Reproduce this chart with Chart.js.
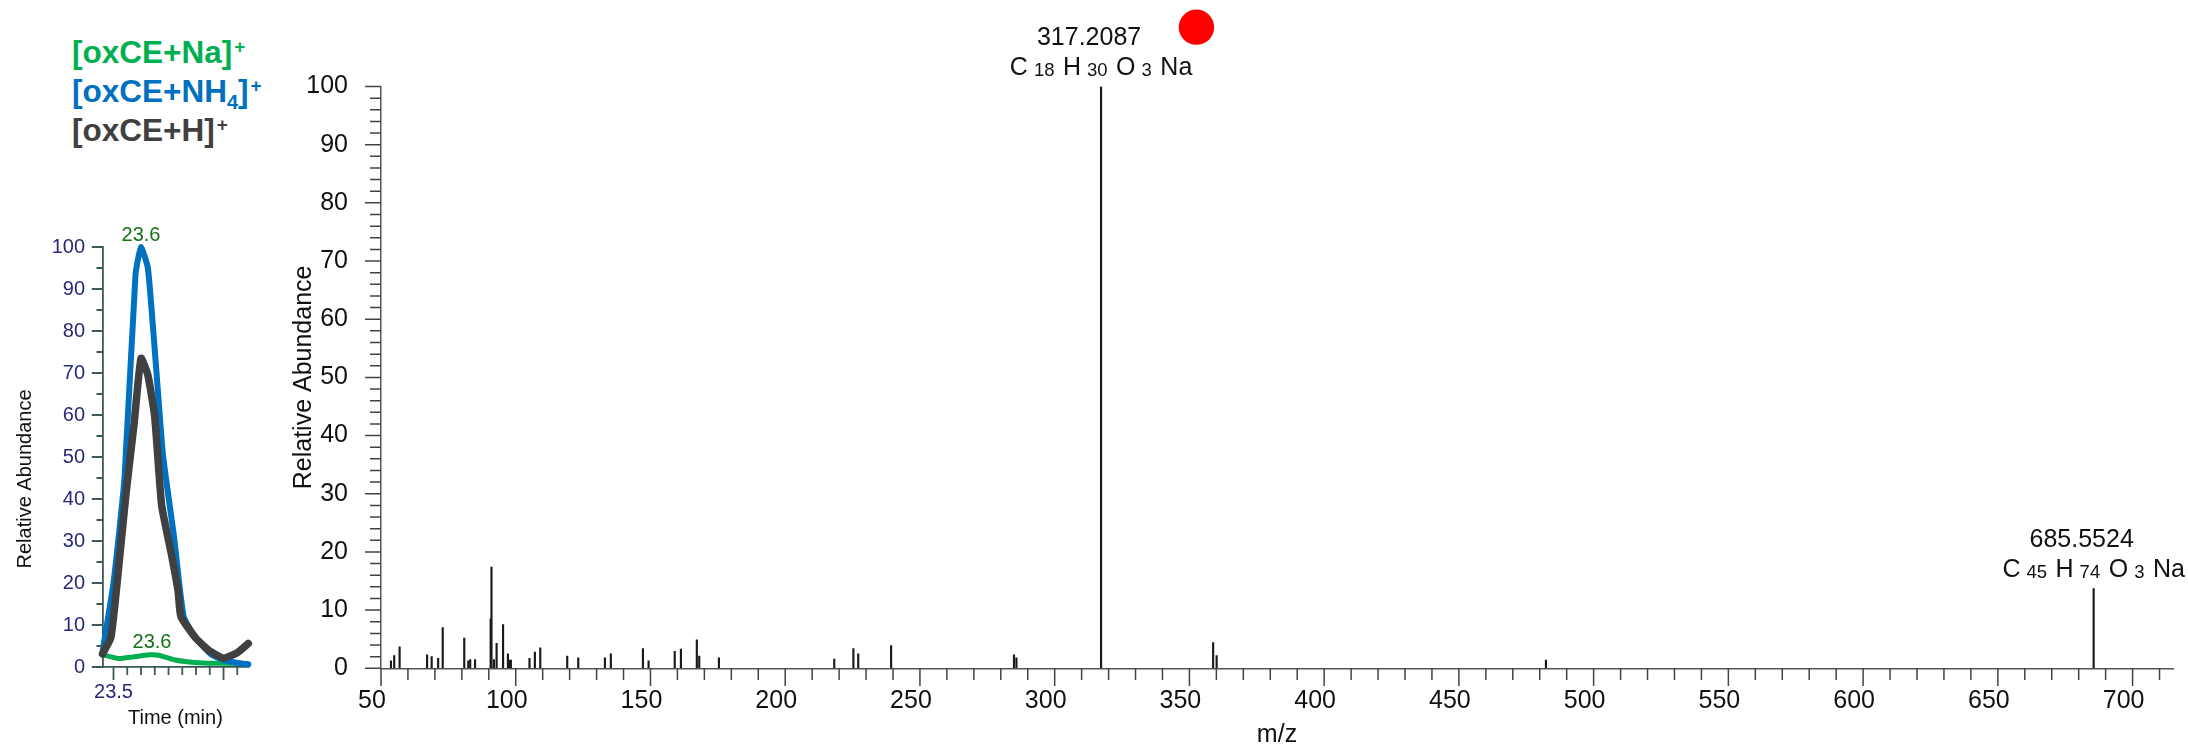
<!DOCTYPE html>
<html>
<head>
<meta charset="utf-8">
<script src="https://cdn.jsdelivr.net/npm/chart.js@4.4.1/dist/chart.umd.min.js"></script>
<style>
  html, body { margin: 0; padding: 0; background: #fff; }
  body { width: 2188px; height: 750px; position: relative; overflow: hidden; font-family: 'Liberation Sans', Arial, sans-serif; }
  #xicWrap { position: absolute; left: 0; top: 0; width: 270px; height: 750px; }
  #msWrap { position: absolute; left: 270px; top: 0; width: 1918px; height: 750px; }
  .legend { position: absolute; left: 72px; top: 33px; font-weight: bold; font-size: 31.5px; white-space: nowrap; }
  .legend div { height: 39px; line-height: 39px; }
  .legend sup { font-size: 19px; line-height: 0; vertical-align: 0; position: relative; top: -10px; margin-left: 2px; }
  .legend sub { font-size: 20px; line-height: 0; vertical-align: 0; position: relative; top: 7px; }
</style>
</head>
<body>
<div class="legend">
  <div style="color:#00b050">[oxCE+Na]<sup>+</sup></div>
  <div style="color:#0070c0">[oxCE+NH<sub>4</sub>]<sup>+</sup></div>
  <div style="color:#404040">[oxCE+H]<sup>+</sup></div>
</div>
<div id="xicWrap"><canvas id="xic" width="270" height="750"></canvas></div>
<div id="msWrap"><canvas id="ms" width="1918" height="750"></canvas></div>
<script>
const FONT = "'Liberation Sans', Arial, sans-serif";

// --- extracted ion chromatograms (left panel) ---
const hTime = [23.46, 23.49, 23.51, 23.545, 23.575, 23.60, 23.625, 23.65, 23.675, 23.71, 23.735, 23.745, 23.80, 23.85, 23.90, 23.95, 23.99];
const hAbundance = [3.1, 6.9, 18, 41, 58, 73.5, 69.5, 59.5, 38.5, 27, 18, 12, 6.8, 3.8, 2.1, 3.4, 5.6];
const nh4Time = [23.46, 23.50, 23.54, 23.58, 23.60, 23.625, 23.65, 23.68, 23.72, 23.755, 23.80, 23.855, 23.905, 23.99];
const nh4Abundance = [3.6, 20, 45, 93.5, 100, 95, 75.5, 50.4, 31, 12, 6.8, 3, 1.5, 0.6];
const naTime = [23.46, 23.52, 23.57, 23.63, 23.665, 23.715, 23.775, 23.845, 23.90, 23.99];
const naAbundance = [2.9, 2.0, 2.4, 2.9, 2.8, 1.8, 1.2, 0.9, 0.9, 0.8];
const rtLabels = ['23.6', '23.6'];
const rtLabelTime = [23.60, 23.64];
const rtLabelAbundance = [100, 2.9];

// --- mass spectrum (right panel) ---
const spectrumMz = [53.7, 54.9, 56.9, 67.1, 68.8, 71.2, 72.9, 80.9, 82.4, 83.1, 84.9, 90.7, 91.0, 91.9, 92.9, 95.3, 97.1, 97.6, 98.2,
  105.1, 107.1, 109.1, 119.1, 123.2, 133.1, 135.3, 147.2, 149.3, 159.0, 161.3, 167.2, 168.1, 175.4, 218.2, 225.3, 227.1, 239.3,
  284.9, 285.8, 317.2087, 358.8, 360.1, 482.3, 685.5524];
const spectrumAbundance = [1.3, 2.2, 3.7, 2.3, 2.0, 1.7, 7.0, 5.2, 1.3, 1.5, 1.5, 8.5, 17.4, 1.5, 4.3, 7.5, 2.5, 1.4, 1.4,
  1.7, 2.8, 3.5, 2.1, 1.8, 1.8, 2.5, 3.4, 1.3, 2.9, 3.3, 4.9, 2.1, 1.8, 1.6, 3.4, 2.5, 3.9,
  2.3, 1.8, 100, 4.4, 2.2, 1.4, 13.7];
const annotatedMz = [317.2087, 685.5524];
const annotatedLabel = ['317.2087', '685.5524'];
const annotatedFormula = [
  [['C', '18'], ['H', '30'], ['O', '3'], ['Na', '']],
  [['C', '45'], ['H', '74'], ['O', '3'], ['Na', '']]
];
const markerPoint = [{ x: 352.6, y: 110.2 }];

const near = (v, step) => Math.abs(v / step - Math.round(v / step)) < 1e-6;

// hand-drawn tick marks so major and minor ticks get different lengths
function tickPlugin(cfg) {
  return {
    id: 'tickMarks',
    afterDraw(chart) {
      const { ctx } = chart;
      const xs = chart.scales.x, ys = chart.scales.y;
      ctx.save();
      ctx.strokeStyle = cfg.color;
      ctx.lineWidth = cfg.width;
      ctx.beginPath();
      xs.ticks.forEach(t => {
        if (!near(t.value, cfg.xStep)) return;
        const px = xs.getPixelForValue(t.value);
        const len = cfg.xMajor(t.value) ? cfg.xMajorLen : cfg.xMinorLen;
        ctx.moveTo(px, xs.top);
        ctx.lineTo(px, xs.top + len);
      });
      ys.ticks.forEach(t => {
        if (!near(t.value, cfg.yStep)) return;
        const py = ys.getPixelForValue(t.value);
        const len = cfg.yMajor(t.value) ? cfg.yMajorLen : cfg.yMinorLen;
        ctx.moveTo(ys.right, py);
        ctx.lineTo(ys.right - len, py);
      });
      ctx.stroke();
      ctx.restore();
    }
  };
}

const xicLabels = {
  id: 'xicLabels',
  afterDraw(chart) {
    const { ctx } = chart;
    const xs = chart.scales.x, ys = chart.scales.y;
    ctx.save();
    ctx.font = '20px ' + FONT;
    ctx.fillStyle = '#137313';
    ctx.textAlign = 'center';
    ctx.textBaseline = 'middle';
    rtLabels.forEach((txt, i) => {
      ctx.fillText(txt, xs.getPixelForValue(rtLabelTime[i]), ys.getPixelForValue(rtLabelAbundance[i]) - 12);
    });
    ctx.translate(25, 479);
    ctx.rotate(-Math.PI / 2);
    ctx.fillStyle = '#111';
    ctx.fillText('Relative Abundance', 0, 0);
    ctx.restore();
  }
};

const peakAnnotations = {
  id: 'peakAnnotations',
  afterDraw(chart) {
    const { ctx } = chart;
    const xs = chart.scales.x, ys = chart.scales.y;
    ctx.save();
    // red marker dot above the base peak
    markerPoint.forEach(p => {
      ctx.beginPath();
      ctx.arc(xs.getPixelForValue(p.x), ys.getPixelForValue(p.y), 17.7, 0, Math.PI * 2);
      ctx.fillStyle = '#ff0000';
      ctx.fill();
    });
    ctx.fillStyle = '#111';
    ctx.textBaseline = 'alphabetic';
    annotatedMz.forEach((mz, i) => {
      const idx = spectrumMz.indexOf(mz);
      const px = xs.getPixelForValue(mz);
      const top = ys.getPixelForValue(spectrumAbundance[idx]);
      ctx.font = '25px ' + FONT;
      ctx.textAlign = 'center';
      ctx.fillText(annotatedLabel[i], px - 12, top - 41.5);
      // formula with subscripts
      const parts = [];
      annotatedFormula[i].forEach(([el, n], k) => {
        parts.push({ t: el, f: '25px ', dy: 0, gap: 0 });
        if (n) parts.push({ t: n, f: '18.5px ', dy: 1, gap: 6 });
        if (k < annotatedFormula[i].length - 1) parts.push({ t: '', f: '25px ', dy: 0, gap: n ? 8.5 : 7 });
      });
      let w = 0;
      parts.forEach(p => { ctx.font = p.f + FONT; p.w = ctx.measureText(p.t).width + p.gap; w += p.w; });
      let x = px - w / 2;
      ctx.textAlign = 'left';
      parts.forEach(p => {
        ctx.font = p.f + FONT;
        ctx.fillText(p.t, x + p.gap, top - 11.5 + p.dy);
        x += p.w;
      });
    });
    ctx.restore();
  }
};

new Chart(document.getElementById('xic'), {
  type: 'line',
  data: {
    datasets: [
      { label: '[oxCE+H]+', data: hTime.map((t, i) => ({ x: t, y: hAbundance[i] })), borderColor: '#404040', borderWidth: 7.5 },
      { label: '[oxCE+NH4]+', data: nh4Time.map((t, i) => ({ x: t, y: nh4Abundance[i] })), borderColor: '#0070c0', borderWidth: 6 },
      { label: '[oxCE+Na]+', data: naTime.map((t, i) => ({ x: t, y: naAbundance[i] })), borderColor: '#00b050', borderWidth: 5 }
    ]
  },
  options: {
    responsive: false,
    animation: false,
    events: [],
    clip: false,
    elements: {
      point: { radius: 0 },
      line: { tension: 0.15, borderJoinStyle: 'round', borderCapStyle: 'round', fill: false }
    },
    layout: { padding: { top: 247, right: 21.7, left: 0, bottom: 0 } },
    plugins: { legend: { display: false }, tooltip: { enabled: false } },
    scales: {
      x: {
        type: 'linear', min: 23.46, max: 23.99,
        grid: { drawOnChartArea: false, drawTicks: false },
        border: { color: '#3b5757', width: 1.8 },
        ticks: {
          stepSize: 0.05, includeBounds: false, autoSkip: false, maxRotation: 0, padding: 13,
          color: '#28287a', font: { size: 20, family: FONT },
          callback: v => (Math.abs(v - 23.5) < 1e-6 ? '23.5' : '')
        },
        title: { display: true, text: 'Time (min)', color: '#111', font: { size: 20, family: FONT }, padding: { top: 0, bottom: 20 } },
        afterFit: s => { s.height = 83; }
      },
      y: {
        min: 0, max: 100,
        grid: { drawOnChartArea: false, drawTicks: false },
        border: { color: '#3b5757', width: 1.8 },
        ticks: {
          stepSize: 5, includeBounds: false, autoSkip: false, padding: 17.5,
          color: '#28287a', font: { size: 20, family: FONT },
          callback: v => (v % 10 === 0 ? v : '')
        },
        afterFit: s => { s.width = 102.5; }
      }
    }
  },
  plugins: [
    tickPlugin({
      color: '#3b5757', width: 1.8,
      xStep: 0.05, xMajor: v => near(v - 23.5, 0.4), xMajorLen: 13, xMinorLen: 8,
      yStep: 5, yMajor: v => near(v, 10), yMajorLen: 10.7, yMinorLen: 6
    }),
    xicLabels
  ]
});

new Chart(document.getElementById('ms'), {
  type: 'bar',
  data: {
    datasets: [
      { data: spectrumMz.map((mz, i) => ({ x: mz, y: spectrumAbundance[i] })), backgroundColor: '#1a1a1a', barThickness: 1.5, grouped: false, borderWidth: 0 }
    ]
  },
  options: {
    responsive: false,
    animation: false,
    events: [],
    layout: { padding: { top: 86.5, right: 15, left: 0, bottom: 0 } },
    plugins: { legend: { display: false }, tooltip: { enabled: false } },
    scales: {
      x: {
        type: 'linear', min: 50, max: 715, offset: false,
        grid: { drawOnChartArea: false, drawTicks: false, offset: false },
        border: { color: '#555', width: 1.5 },
        ticks: {
          stepSize: 10, includeBounds: false, autoSkip: false, maxRotation: 0, padding: 18, labelOffset: -9,
          color: '#111', font: { size: 25, family: FONT },
          callback: v => (near(v, 50) ? Math.round(v) : '')
        },
        title: { display: true, text: 'm/z', color: '#111', font: { size: 25, family: FONT }, padding: 0 },
        afterFit: s => { s.height = 81.7; }
      },
      y: {
        min: 0, max: 100,
        grid: { drawOnChartArea: false, drawTicks: false },
        border: { color: '#555', width: 1.5 },
        ticks: {
          stepSize: 2, includeBounds: false, autoSkip: false, padding: 33,
          color: '#111', font: { size: 25, family: FONT },
          callback: v => (v % 10 === 0 ? v : '')
        },
        title: { display: true, text: 'Relative Abundance', color: '#111', font: { size: 25, family: FONT }, padding: { top: 19, bottom: 0 } },
        afterFit: s => { s.width = 111; }
      }
    }
  },
  plugins: [
    tickPlugin({
      color: '#444', width: 1.5,
      xStep: 10, xMajor: v => near(v, 50), xMajorLen: 17.7, xMinorLen: 11.7,
      yStep: 2, yMajor: v => near(v, 10), yMajorLen: 16, yMinorLen: 11
    }),
    peakAnnotations
  ]
});
</script>
</body>
</html>
